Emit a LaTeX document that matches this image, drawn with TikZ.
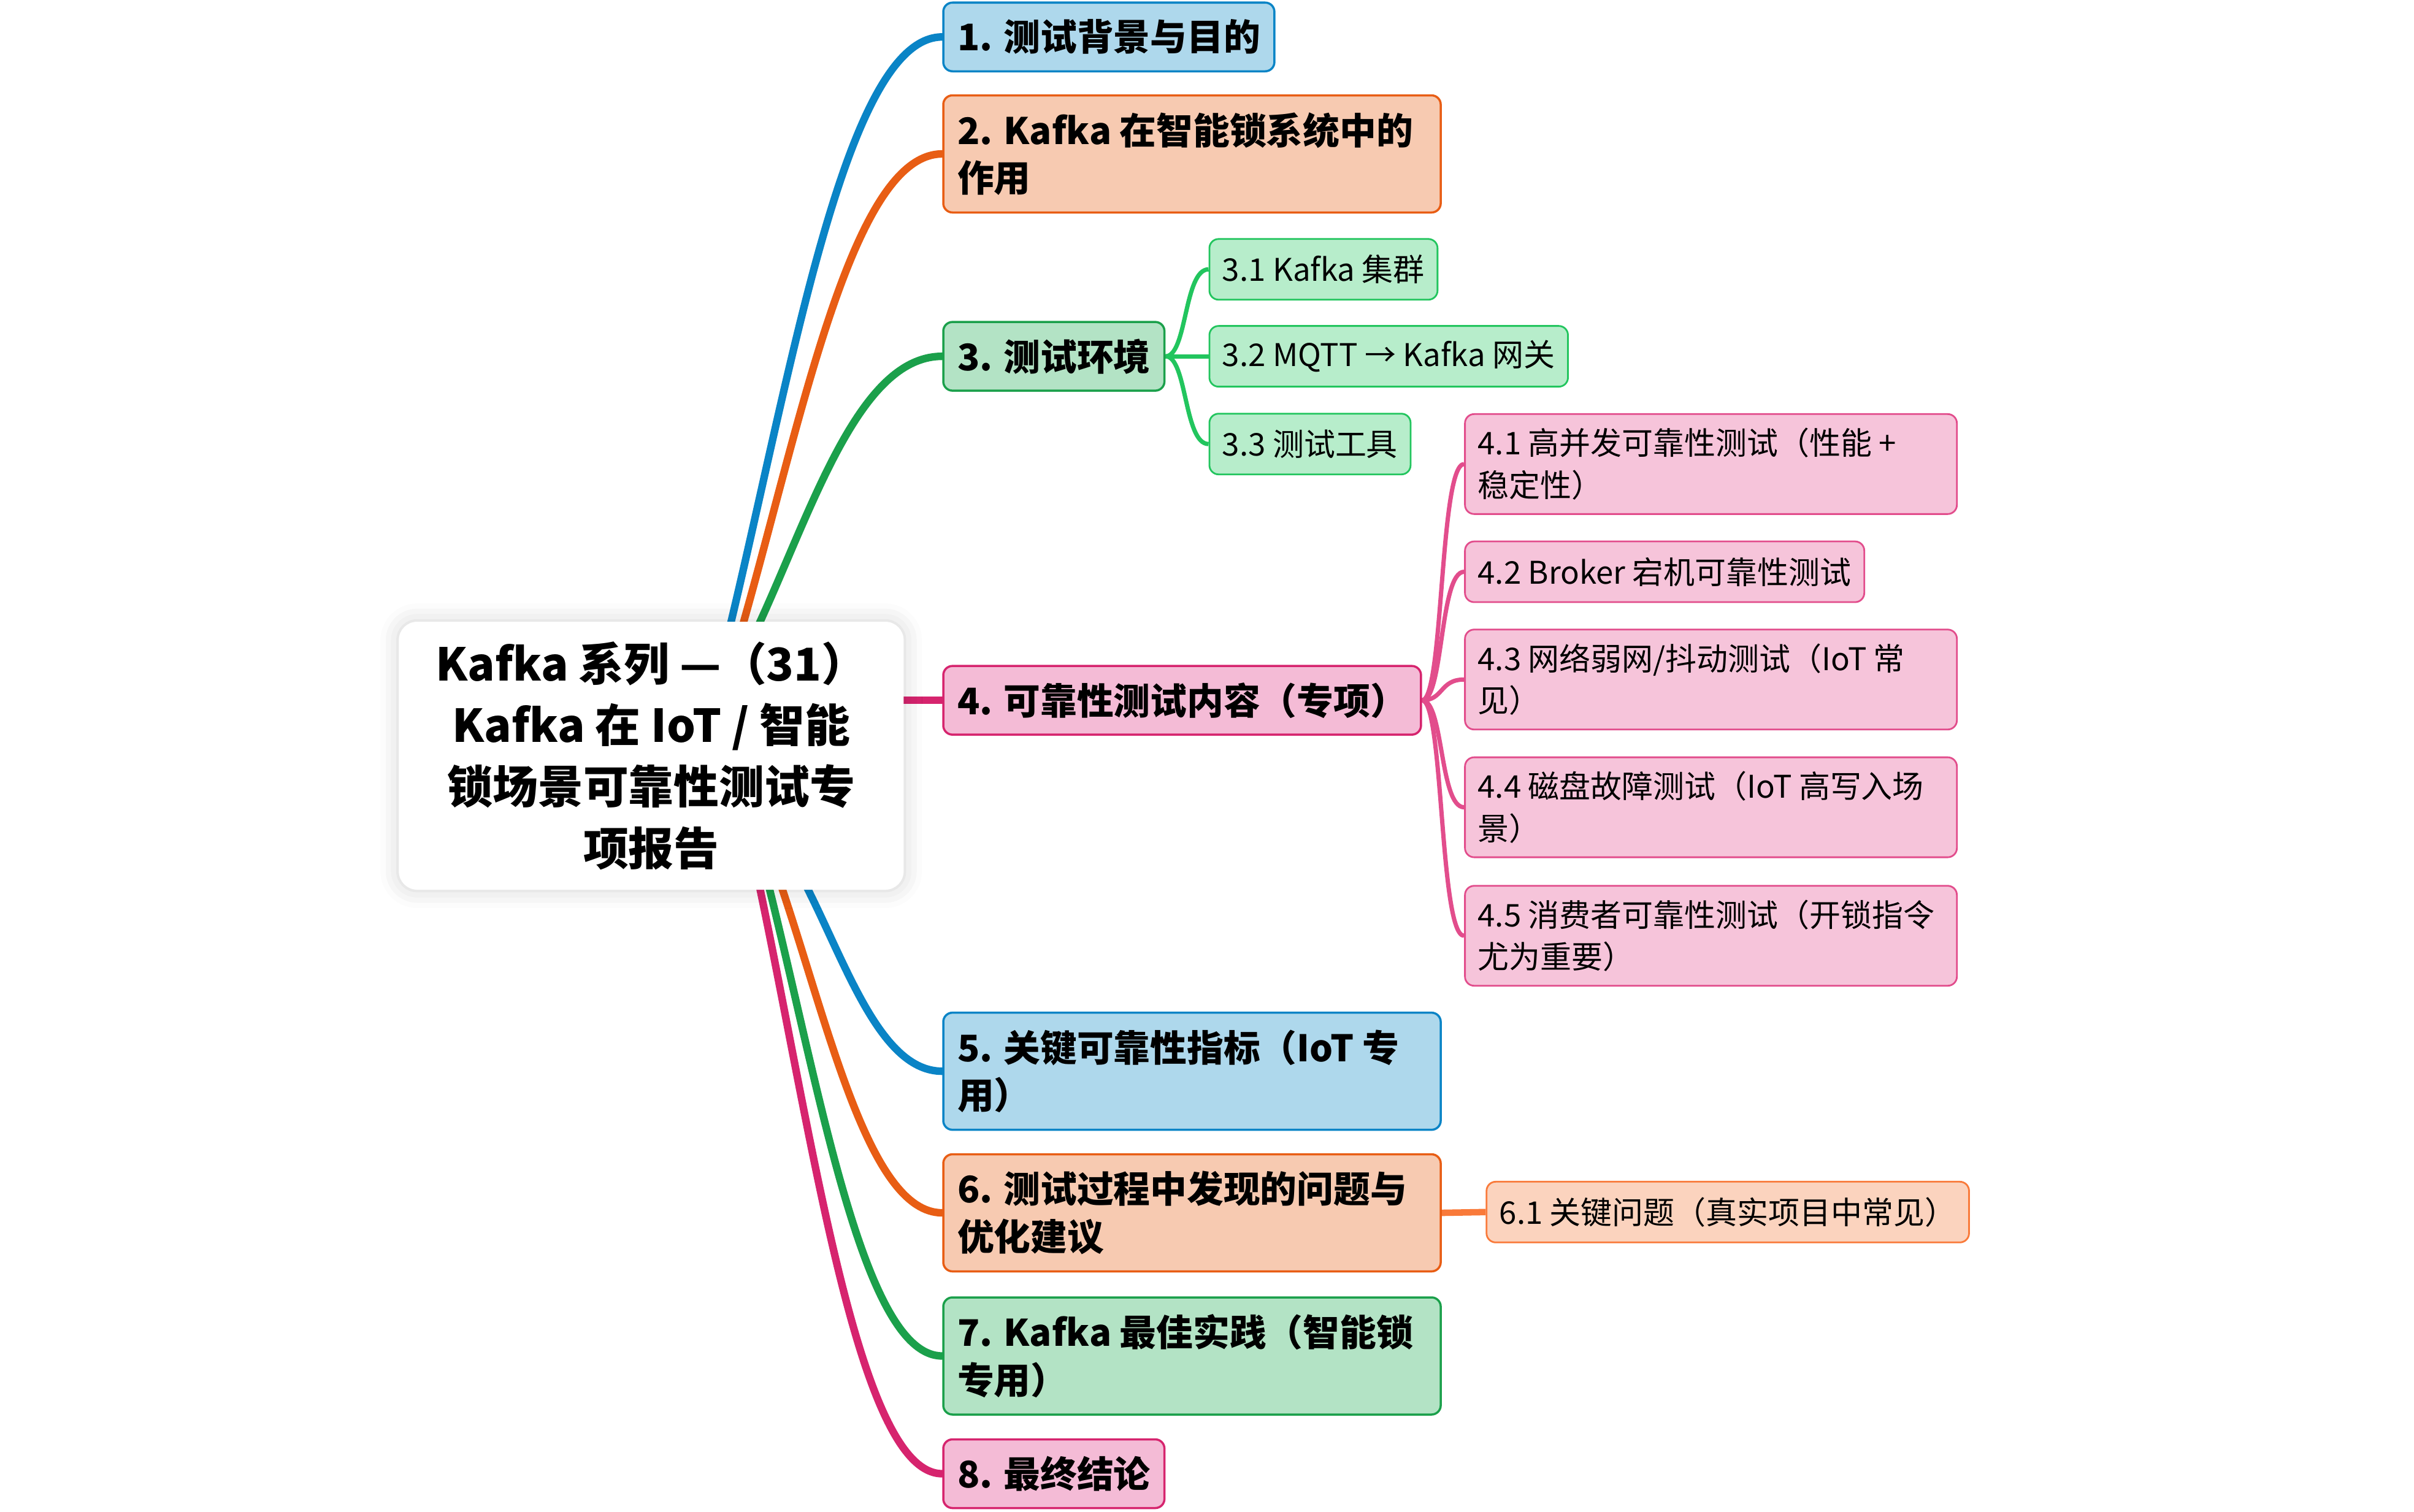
\documentclass[tikz,border=0pt]{standalone}
\usepackage{fontspec}
\setmainfont{Noto Sans CJK SC}
\usetikzlibrary{backgrounds,shadows.blur}
\definecolor{blueline}{HTML}{0A84C6}
\definecolor{bluefill}{HTML}{AED8EC}
\definecolor{orangeline}{HTML}{E85D14}
\definecolor{orangefill}{HTML}{F7CAB1}
\definecolor{greenline}{HTML}{1BA04B}
\definecolor{greenfill}{HTML}{B3E3C5}
\definecolor{pinkline}{HTML}{D6246E}
\definecolor{pinkfill}{HTML}{F4BBD6}
\definecolor{mintline}{HTML}{22C55E}
\definecolor{mintfill}{HTML}{B7EDCB}
\definecolor{roseline}{HTML}{E24D8C}
\definecolor{rosefill}{HTML}{F6C4DA}
\definecolor{peachline}{HTML}{F97A3A}
\definecolor{peachfill}{HTML}{FBD3BE}

\begin{document}
\begin{tikzpicture}[x=0.251mm,y=-0.251mm,
  rootbox/.style={rounded corners=3mm,fill=white,minimum width=82.3mm,minimum height=43.7mm,align=center,font=\fontsize{21pt}{28.5pt}\selectfont\bfseries,blur shadow={shadow xshift=0pt,shadow yshift=0pt,shadow blur radius=3mm,shadow opacity=18}},
  topic/.style={rounded corners=1.5mm,line width=1pt,inner xsep=2.3mm,inner ysep=1mm,minimum height=11.2mm,anchor=west,align=flush left,font=\fontsize{17pt}{22pt}\selectfont\bfseries},
  widetopic/.style={topic,text width=76.5mm,minimum height=19.1mm},
  leaf/.style={rounded corners=1.5mm,line width=.8pt,inner xsep=2.1mm,inner ysep=1mm,minimum height=9.9mm,anchor=west,align=flush left,font=\fontsize{14.5pt}{19.5pt}\selectfont},
  wideleaf/.style={leaf,text width=76mm,minimum height=16.3mm},
  branch/.style={line width=3.5pt,line cap=round},
  twig/.style={line width=2pt}]
  \useasboundingbox (0,0) rectangle (1568,982);
  \node[rootbox] (root) at (423,491) {Kafka 系列 —（31）\\Kafka 在 IoT / 智能\\锁场景可靠性测试专\\项报告};
  \node[topic,fill=bluefill,draw=blueline] (intro) at (612,24) {1. 测试背景与目的};
  \node[widetopic,fill=orangefill,draw=orangeline] (role) at (612,100) {2. Kafka 在智能锁系统中的\\作用};
  \node[topic,fill=greenfill,draw=greenline] (env) at (612,231.5) {3. 测试环境};
  \node[leaf,fill=mintfill,draw=mintline] (cluster) at (785,175) {3.1 Kafka 集群};
  \node[leaf,fill=mintfill,draw=mintline] (gateway) at (785,231.5) {3.2 MQTT → Kafka 网关};
  \node[leaf,fill=mintfill,draw=mintline] (tools) at (785,288.5) {3.3 测试工具};
  \node[topic,fill=pinkfill,draw=pinkline] (content) at (612,455) {4. 可靠性测试内容（专项）};
  \node[wideleaf,fill=rosefill,draw=roseline] (load) at (951,301.5) {4.1 高并发可靠性测试（性能 +\\稳定性）};
  \node[leaf,fill=rosefill,draw=roseline] (broker) at (951,371.5) {4.2 Broker 宕机可靠性测试};
  \node[wideleaf,fill=rosefill,draw=roseline] (network) at (951,441.5) {4.3 网络弱网/抖动测试（IoT 常\\见）};
  \node[wideleaf,fill=rosefill,draw=roseline] (disk) at (951,524.5) {4.4 磁盘故障测试（IoT 高写入场\\景）};
  \node[wideleaf,fill=rosefill,draw=roseline] (consumer) at (951,608) {4.5 消费者可靠性测试（开锁指令\\尤为重要）};
  \node[widetopic,fill=bluefill,draw=blueline] (metrics) at (612,696) {5. 关键可靠性指标（IoT 专\\用）};
  \node[widetopic,fill=orangefill,draw=orangeline] (issues) at (612,788) {6. 测试过程中发现的问题与\\优化建议};
  \node[leaf,fill=peachfill,draw=peachline] (keyissue) at (965,787.5) {6.1 关键问题（真实项目中常见）};
  \node[widetopic,fill=greenfill,draw=greenline] (practice) at (612,881) {7. Kafka 最佳实践（智能锁\\专用）};
  \node[topic,fill=pinkfill,draw=pinkline] (summary) at (612,957.5) {8. 最终结论};
  \begin{scope}[on background layer]
    \draw[branch,blueline] ([shift={(51,4)}]root.north) .. controls +(41,-171) and +(-62,0) .. (intro.west);
    \draw[branch,orangeline] ([shift={(59,4)}]root.north) .. controls +(39,-137) and +(-58,0) .. (role.west);
    \draw[branch,greenline] ([shift={(69,4)}]root.north) .. controls +(36,-78) and +(-54,0) .. (env.west);
    \draw[branch,pinkline] (root.east |- content.west) -- (content.west);
    \draw[branch,blueline] ([shift={(100,-4)}]root.south) .. controls +(27,53) and +(-40,0) .. (metrics.west);
    \draw[branch,orangeline] ([shift={(84,-4)}]root.south) .. controls +(32,95) and +(-47,0) .. (issues.west);
    \draw[branch,greenline] ([shift={(76,-4)}]root.south) .. controls +(34,136) and +(-51,0) .. (practice.west);
    \draw[branch,pinkline] ([shift={(70,-4)}]root.south) .. controls +(36,171) and +(-54,0) .. (summary.west);
    \draw[twig,mintline] (env.east) .. controls +(14,0) and +(-16,0) .. (cluster.west);
    \draw[twig,mintline] (env.east) -- (gateway.west);
    \draw[twig,mintline] (env.east) .. controls +(14,0) and +(-16,0) .. (tools.west);
    \draw[twig,roseline] (content.east) .. controls +(14,0) and +(-16,0) .. (load.west);
    \draw[twig,roseline] (content.east) .. controls +(14,0) and +(-16,0) .. (broker.west);
    \draw[twig,roseline] (content.east) .. controls +(14,0) and +(-16,0) .. (network.west);
    \draw[twig,roseline] (content.east) .. controls +(14,0) and +(-16,0) .. (disk.west);
    \draw[twig,roseline] (content.east) .. controls +(14,0) and +(-16,0) .. (consumer.west);
    \draw[line width=3pt,peachline] (issues.east) -- (keyissue.west);
  \end{scope}
\end{tikzpicture}
\end{document}
